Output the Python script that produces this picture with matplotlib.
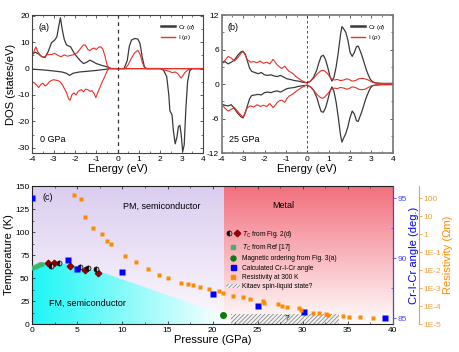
import numpy as np
import matplotlib
matplotlib.use('Agg')
import matplotlib.pyplot as plt
from matplotlib.lines import Line2D
from matplotlib.patches import Patch, Polygon, Rectangle
from matplotlib.legend_handler import HandlerTuple
from matplotlib.ticker import MultipleLocator, FixedLocator, NullFormatter

plt.rcParams['font.family'] = ['Liberation Sans', 'DejaVu Sans']
plt.rcParams['mathtext.fontset'] = 'custom'
plt.rcParams['mathtext.rm'] = 'Liberation Sans'
plt.rcParams['mathtext.it'] = 'Liberation Sans:italic'
plt.rcParams['axes.unicode_minus'] = False
plt.rcParams['hatch.color'] = '#888888'
plt.rcParams['hatch.linewidth'] = 0.6

# ---------------- panel (a): 0 GPa DOS ----------------
a_cr_up_E = [-4.0, -3.85, -3.7, -3.55, -3.4, -3.25, -3.1, -2.95, -2.85, -2.75, -2.68, -2.6, -2.5,
             -2.4, -2.3, -2.2, -2.05, -1.9, -1.75, -1.6, -1.45, -1.3, -1.15, -1.0, -0.85, -0.7,
             -0.55, -0.4, -0.3, 0.0, 0.3, 0.45, 0.55, 0.65, 0.8, 0.95, 1.05, 1.15, 1.25, 1.35, 4.0]
a_cr_up = [5.6, 6.2, 5.5, 4.5, 4.2, 6.5, 9.8, 10.8, 12.0, 16.5, 19.3, 15.0, 11.0,
           9.0, 8.6, 8.2, 6.0, 4.4, 3.0, 1.9, 2.4, 3.2, 2.6, 1.9, 1.5, 1.1,
           0.8, 0.4, 0.0, 0.0, 0.0, 3.0, 8.5, 10.8, 11.4, 11.2, 9.5, 4.5, 0.8, 0.0, 0.0]
a_cr_dn_E = [-4.0, -3.5, -3.0, -2.6, -2.4, -2.25, -2.1, -1.8, -1.4, -1.0, -0.6, -0.35, 2.0, 2.15,
             2.3, 2.4, 2.45, 2.55, 2.62, 2.7, 2.78, 2.85, 2.92, 2.98, 3.05, 3.12, 3.2, 3.28,
             3.38, 3.5, 4.0]
a_cr_dn = [-0.2, -0.5, -0.9, -1.3, -1.8, -2.6, -1.8, -1.3, -1.0, -0.7, -0.3, 0.0, 0.0, -0.6,
           -3.0, -10.0, -16.0, -17.5, -24.0, -28.5, -26.0, -22.0, -21.5, -25.0, -31.5, -29.0,
           -15.0, -5.0, -0.8, 0.0, 0.0]
a_i_up_E = [-4.0, -3.9, -3.83, -3.75, -3.6, -3.45, -3.3, -3.1, -2.95, -2.8, -2.65, -2.5, -2.35,
            -2.2, -2.05, -1.9, -1.75, -1.6, -1.5, -1.4, -1.3, -1.2, -1.1, -1.0, -0.9, -0.8, -0.7,
            -0.6, -0.5, -0.4, -0.3, 0.35, 0.5, 0.65, 0.8, 0.95, 1.05, 1.15, 1.25, 1.35, 4.0]
a_i_up = [4.5, 7.0, 8.2, 6.5, 4.8, 4.3, 5.3, 5.3, 5.8, 5.0, 4.5, 5.2, 4.7,
          5.0, 5.3, 6.0, 7.5, 9.0, 8.8, 7.3, 6.8, 7.5, 7.8, 7.2, 8.0, 8.3, 7.5,
          5.0, 1.5, 0.2, 0.0, 0.0, 1.5, 4.0, 6.0, 6.9, 5.5, 2.5, 0.5, 0.0, 0.0]
a_i_dn_E = [-4.0, -3.9, -3.8, -3.7, -3.6, -3.5, -3.4, -3.3, -3.2, -3.1, -3.0, -2.9, -2.8, -2.7,
            -2.6, -2.5, -2.4, -2.3, -2.22, -2.15, -2.05, -1.95, -1.85, -1.7, -1.6, -1.5, -1.4,
            -1.3, -1.2, -1.1, -1.02, -0.95, -0.85, -0.75, -0.6, -0.5, -0.4, 2.0, 2.2, 2.4,
            2.55, 2.7, 2.8, 2.9, 2.97, 3.05, 3.15, 3.3, 3.45, 4.0]
a_i_dn = [-5.0, -5.5, -6.2, -7.2, -6.0, -5.5, -6.6, -6.0, -5.0, -4.5, -4.2, -4.4, -4.5, -5.0,
          -6.0, -7.5, -9.0, -11.5, -12.0, -10.0, -9.2, -10.0, -8.6, -8.0, -8.8, -7.8, -8.0,
          -8.6, -8.4, -9.5, -11.0, -9.5, -7.5, -5.5, -3.0, -1.0, 0.0, 0.0, -0.6, -1.0,
          -1.5, -1.3, -1.8, -2.8, -3.6, -2.8, -1.5, -0.5, 0.0, 0.0]

# ---------------- panel (b): 25 GPa DOS ----------------
b_cr_E = [-4.0, -3.85, -3.7, -3.55, -3.4, -3.25, -3.1, -3.0, -2.9, -2.8, -2.7, -2.6, -2.45, -2.3,
          -2.15, -2.0, -1.85, -1.7, -1.55, -1.4, -1.25, -1.1, -0.95, -0.8, -0.6, -0.4, -0.2, 0.0,
          0.15, 0.3, 0.45, 0.55, 0.65, 0.75, 0.85, 0.95, 1.05, 1.15, 1.25, 1.35, 1.45, 1.55, 1.62,
          1.7, 1.8, 1.9, 2.0, 2.1, 2.2, 2.3, 2.38, 2.45, 2.55, 2.65, 2.75, 2.85, 2.95, 3.05, 3.2,
          3.5, 4.0]
b_cr_up = [3.6, 3.9, 3.5, 3.8, 4.2, 5.0, 5.6, 5.7, 5.2, 4.0, 2.8, 2.2, 2.0, 1.8,
           2.0, 1.6, 1.5, 1.6, 1.4, 1.3, 1.5, 1.2, 0.9, 0.8, 0.6, 0.5, 0.3, 0.2,
           0.5, 1.2, 2.5, 3.8, 4.8, 5.0, 4.3, 3.0, 1.5, 0.5, 1.2, 3.0, 5.5, 8.5, 10.0,
           9.6, 9.0, 7.6, 5.5, 4.8, 5.5, 6.5, 6.6, 6.0, 5.0, 3.8, 2.6, 1.6, 0.8, 0.4, 0.2,
           0.1, 0.1]
b_cr_dn = [-3.5, -3.7, -3.8, -3.6, -4.3, -5.1, -5.7, -5.9, -5.0, -3.8, -2.6, -2.0, -1.9, -1.8,
           -1.9, -1.5, -1.4, -1.5, -1.3, -1.2, -1.4, -1.1, -0.8, -0.7, -0.6, -0.4, -0.3, -0.2,
           -0.5, -1.1, -2.4, -3.7, -4.8, -4.9, -4.2, -2.9, -1.4, -0.5, -1.3, -3.2, -5.8, -8.8, -10.1,
           -9.4, -8.6, -7.4, -5.8, -4.7, -5.2, -6.4, -6.5, -5.8, -4.8, -3.6, -2.4, -1.5, -0.7,
           -0.3, -0.2, -0.1, -0.1]
b_i_E = [-4.0, -3.85, -3.7, -3.55, -3.4, -3.25, -3.1, -3.0, -2.9, -2.8, -2.65, -2.5, -2.35, -2.2,
         -2.05, -1.9, -1.75, -1.6, -1.5, -1.4, -1.3, -1.2, -1.05, -0.95, -0.85, -0.7, -0.5, -0.3,
         -0.1, 0.0, 0.15, 0.3, 0.45, 0.6, 0.7, 0.8, 0.95, 1.1, 1.25, 1.4, 1.55, 1.7, 1.85, 1.95,
         2.1, 2.25, 2.4, 2.55, 2.7, 2.85, 3.0, 3.15, 3.3, 4.0]
b_i_up = [3.7, 4.1, 4.8, 4.5, 4.0, 4.6, 5.3, 5.7, 5.0, 4.2, 3.8, 3.9, 3.7, 4.0,
          3.6, 3.8, 3.5, 4.3, 3.8, 3.3, 3.0, 2.7, 3.1, 2.6, 2.2, 1.9, 1.2, 0.7,
          0.3, 0.2, 0.5, 1.0, 1.7, 2.2, 2.4, 2.3, 1.8, 1.0, 0.7, 0.8, 0.6, 0.7, 0.9, 0.8,
          0.5, 0.6, 0.9, 1.0, 0.9, 0.7, 0.4, 0.2, 0.1, 0.1]
b_i_dn = [-3.5, -4.2, -4.7, -4.4, -4.1, -4.8, -5.4, -5.8, -4.9, -4.1, -3.8, -4.0, -3.6, -3.9,
          -3.7, -3.9, -3.4, -4.1, -3.7, -3.2, -2.9, -2.8, -3.2, -2.5, -2.1, -1.8, -1.2, -0.7,
          -0.3, -0.2, -0.5, -1.1, -1.8, -2.3, -2.5, -2.3, -1.7, -1.0, -0.7, -0.8, -0.6, -0.7,
          -0.9, -0.8, -0.5, -0.6, -0.9, -1.0, -0.9, -0.6, -0.3, -0.2, -0.1, -0.1]

# ---------------- panel (c): phase diagram ----------------
tc_circ_P = [2.1, 3.0, 5.3, 6.2, 7.1]
tc_circ_T = [63.5, 65.8, 61.8, 61.3, 59.5]
tc_diam_P = [1.75, 2.4, 4.2, 5.9, 7.25]
tc_diam_T = [65.8, 66.0, 63.0, 58.5, 55.8]
ref17_P = [0.0, 0.12, 0.25, 0.38, 0.5, 0.62, 0.75, 0.88, 1.0, 1.1]
ref17_T = [60.8, 61.5, 62.2, 62.8, 63.4, 64.0, 64.5, 64.9, 65.2, 65.4]
mag_P = [21.2]
mag_T = [9.8]
angle_P = [0.0, 4.0, 5.0, 10.0, 20.0, 25.0, 30.1, 39.1]
angle_deg = [95.0, 89.8, 89.1, 88.8, 87.0, 86.0, 85.5, 85.03]
res_P = [4.66, 5.4, 5.84, 6.73, 7.69, 8.28, 8.72, 10.28, 11.5, 12.83, 14.0, 15.0, 16.5, 17.3,
         17.85, 18.6, 19.6, 20.7, 21.2, 22.3, 23.4, 24.2, 25.55, 25.7, 27.2, 27.7, 28.3, 29.55,
         29.8, 31.1, 31.85, 32.55, 32.8, 34.5, 35.1, 36.4, 37.8]
res_ohm = [147, 92.7, 8.77, 2.13, 0.99, 0.41, 0.27, 0.062, 0.027, 0.0119, 0.0056, 0.0038, 0.0020,
           0.0016, 0.0014, 0.00112, 0.00085, 0.00069, 0.00053, 0.00038, 0.00031, 0.00025,
           0.00019, 0.000154, 0.000125, 0.000101, 0.000092, 0.000074, 0.000060, 0.000043,
           0.000039, 0.000036, 0.000033, 0.0000289, 0.0000257, 0.0000234, 0.0000226]
fm_P = [0.0, 0.5, 1.0, 2.0, 3.0, 4.0, 5.0, 6.0, 7.5, 21.25]
fm_T = [61.0, 63.5, 65.5, 66.5, 66.0, 64.5, 62.5, 60.0, 57.0, 10.0]
metal_P = 21.25
kitaev_P = (22.0, 34.0)
kitaev_T = 11.0
res_ticks = [1e-5, 1e-4, 1e-3, 1e-2, 1e-1, 1, 10, 100]
res_labels = ['1E-5', '1E-4', '1E-3', '1E-2', '1E-1', '1', '10', '100']

BLK = '#3a3a3a'
RED = '#e8302a'
BLUE = '#0000ff'
ORANGE = '#ff8a00'
ORANGE_AX = '#f0a040'
BLUE_AX = '#4646ff'

fig = plt.figure(figsize=(4.6, 3.52), dpi=100)
ax_a = fig.add_axes([0.0702, 0.5653, 0.371, 0.392])
ax_b = fig.add_axes([0.482, 0.5653, 0.372, 0.392])
ax_c = fig.add_axes([0.0702, 0.0795, 0.784, 0.392])


def style_box(ax):
    for s in ax.spines.values():
        s.set_color('#444444')
        s.set_linewidth(0.8)
    ax.tick_params(which='both', direction='in', top=True, right=True, labelsize=6,
                   color='#444444', pad=2)
    ax.tick_params(which='major', length=2.5, width=0.6)
    ax.tick_params(which='minor', length=1.5, width=0.5)


# panel (a)
ax_a.plot(a_cr_up_E, a_cr_up, color=BLK, lw=0.9)
ax_a.plot(a_cr_dn_E, a_cr_dn, color=BLK, lw=0.9)
ax_a.plot(a_i_up_E, a_i_up, color=RED, lw=0.8)
ax_a.plot(a_i_dn_E, a_i_dn, color=RED, lw=0.8)
ax_a.axvline(0, color='#333333', ls=(0, (3, 3)), lw=0.9)
ax_a.set_xlim(-4, 4)
ax_a.set_ylim(-32, 20.3)
ax_a.xaxis.set_major_locator(MultipleLocator(1))
ax_a.xaxis.set_minor_locator(MultipleLocator(0.5))
ax_a.yaxis.set_major_locator(MultipleLocator(10))
ax_a.yaxis.set_minor_locator(MultipleLocator(5))
style_box(ax_a)
ax_a.set_xlabel('Energy (eV)', fontsize=8, labelpad=1)
ax_a.set_ylabel('DOS (states/eV)', fontsize=8, labelpad=1)
ax_a.text(0.035, 0.94, '(a)', transform=ax_a.transAxes, fontsize=6.5, va='top')
ax_a.text(0.045, 0.1, '0 GPa', transform=ax_a.transAxes, fontsize=6.5, va='center')
leg_a = [Line2D([], [], color=BLK, lw=1.8), Line2D([], [], color=RED, lw=1.0)]
ax_a.legend(leg_a, ['Cr ($d$)', 'I ($p$)'], loc='upper right', frameon=False, fontsize=4.5,
            handlelength=2.2, handletextpad=0.5, labelspacing=0.3, borderaxespad=0.8)

# panel (b)
ax_b.plot(b_cr_E, b_cr_up, color=BLK, lw=0.9)
ax_b.plot(b_cr_E, b_cr_dn, color=BLK, lw=0.9)
ax_b.plot(b_i_E, b_i_up, color=RED, lw=0.8)
ax_b.plot(b_i_E, b_i_dn, color=RED, lw=0.8)
ax_b.axvline(0, color='#333333', ls=(0, (3, 3)), lw=0.6)
ax_b.set_xlim(-4, 4)
ax_b.set_ylim(-12, 12)
ax_b.xaxis.set_major_locator(MultipleLocator(1))
ax_b.xaxis.set_minor_locator(MultipleLocator(0.5))
ax_b.yaxis.set_major_locator(MultipleLocator(6))
ax_b.yaxis.set_minor_locator(MultipleLocator(3))
style_box(ax_b)
for s in ax_b.spines.values():
    s.set_color('#777777')
    s.set_linewidth(1.2)
ax_b.set_xlabel('Energy (eV)', fontsize=8, labelpad=1)
ax_b.text(0.035, 0.94, '(b)', transform=ax_b.transAxes, fontsize=6.5, va='top')
ax_b.text(0.045, 0.1, '25 GPa', transform=ax_b.transAxes, fontsize=6.5, va='center')
ax_b.legend(leg_a, ['Cr ($d$)', 'I ($p$)'], loc='upper right', frameon=False, fontsize=4.5,
            handlelength=2.2, handletextpad=0.5, labelspacing=0.3, borderaxespad=0.8)

# panel (c) backgrounds
n = 200
g = np.linspace(0, 1, n)[:, None, None]
lav_top = np.array([218, 205, 240]) / 255
lav_bot = np.array([253, 249, 253]) / 255
lav = lav_bot * (1 - g) + lav_top * g
lav = np.repeat(lav, 2, axis=1)
ax_c.imshow(lav, extent=[0, metal_P, 0, 150], origin='lower', aspect='auto', zorder=0)

red_top = np.array([242, 112, 126]) / 255
red_bot = np.array([255, 252, 252]) / 255
red = red_bot * (1 - g) + red_top * g
red = np.repeat(red, 2, axis=1)
ax_c.imshow(red, extent=[metal_P, 40, 0, 150], origin='lower', aspect='auto', zorder=0)

h = np.linspace(0, 1, n)[None, :, None]
cy_l = np.array([30, 246, 246]) / 255
cy_r = np.array([250, 255, 255]) / 255
cy = cy_l * (1 - h) + cy_r * h
cy = np.repeat(cy, 2, axis=0)
im = ax_c.imshow(cy, extent=[0, metal_P, 0, 70], origin='lower', aspect='auto', zorder=0.5)
fm_poly = Polygon(list(zip(fm_P, fm_T)) + [(metal_P, 0), (0, 0)], closed=True,
                  transform=ax_c.transData, facecolor='none', edgecolor='none')
ax_c.add_patch(fm_poly)
im.set_clip_path(fm_poly)

ax_c.add_patch(Rectangle((kitaev_P[0], 0), kitaev_P[1] - kitaev_P[0], kitaev_T,
                         facecolor='#f4f4f4', edgecolor='#888888', hatch='////////', lw=0,
                         zorder=1))
ax_c.text(28.3, 5.5, '?', fontsize=6, ha='center', va='center', zorder=2)

ax_c.plot(ref17_P, ref17_T, 's', color='#3cb371', ms=2.8, mec='none', zorder=3)
ax_c.plot(tc_diam_P, tc_diam_T, 'D', color='#8b0000', ms=3.3, mec='#8b0000', zorder=4)
ax_c.plot(tc_circ_P, tc_circ_T, 'o', ms=3.6, mfc='black', mec='black',
          fillstyle='left', markerfacecoloralt='#bbbbbb', mew=0.5, zorder=5)
ax_c.plot(mag_P, mag_T, 'o', color='#0b7a0b', ms=4, zorder=5)

ax_c.set_xlim(0, 40)
ax_c.set_ylim(0, 150)
ax_c.xaxis.set_major_locator(MultipleLocator(5))
ax_c.xaxis.set_minor_locator(MultipleLocator(2.5))
ax_c.yaxis.set_major_locator(MultipleLocator(25))
ax_c.yaxis.set_minor_locator(MultipleLocator(12.5))
for s in ax_c.spines.values():
    s.set_color('#222222')
    s.set_linewidth(0.8)
ax_c.tick_params(which='both', direction='in', top=True, right=False, labelsize=6,
                 color='#333333', pad=2)
ax_c.tick_params(which='major', length=2.5, width=0.6)
ax_c.tick_params(which='minor', length=1.5, width=0.5)
ax_c.set_xlabel('Pressure (GPa)', fontsize=8, labelpad=1)
ax_c.set_ylabel('Temperature (K)', fontsize=8, labelpad=1)
ax_c.text(1.1, 137, '(c)', fontsize=6.5, va='center')
ax_c.text(14.3, 128, 'PM, semiconductor', fontsize=6.5, ha='center', va='center')
ax_c.text(1.9, 22, 'FM, semiconductor', fontsize=6.5, ha='left', va='center')
ax_c.text(27.8, 129, 'Metal', fontsize=6.5, ha='center', va='center')

# angle axis
ax_ang = ax_c.twinx()
ax_ang.plot(angle_P, angle_deg, 's', color=BLUE, ms=4.2, mec='none', zorder=5)
ax_ang.set_ylim(84.5, 96)
ax_ang.yaxis.set_major_locator(FixedLocator([85, 90, 95]))
ax_ang.yaxis.set_minor_locator(FixedLocator([87.5, 92.5]))
ax_ang.spines['right'].set_color(BLUE_AX)
ax_ang.spines['right'].set_linewidth(0.8)
for k in ['top', 'left', 'bottom']:
    ax_ang.spines[k].set_visible(False)
ax_ang.tick_params(axis='y', which='major', direction='out', length=2.5, width=0.6,
                   colors=BLUE_AX, labelsize=6, pad=1)
ax_ang.tick_params(axis='y', which='minor', direction='in', length=1.5, width=0.5,
                   colors=BLUE_AX)
ax_ang.set_ylabel('Cr-I-Cr angle (deg.)', fontsize=8, color=BLUE, labelpad=1)

# resistivity axis
ax_res = ax_c.twinx()
ax_res.spines['right'].set_position(('axes', 1.072))
ax_res.set_yscale('log')
ax_res.plot(res_P, res_ohm, 's', color=ORANGE, ms=3.0, mec='none', zorder=6)
ax_res.set_ylim(1e-5, 10 ** 2.685)
ax_res.yaxis.set_major_locator(FixedLocator(res_ticks))
ax_res.yaxis.set_minor_locator(FixedLocator([]))
ax_res.set_yticklabels(res_labels)
ax_res.yaxis.set_minor_formatter(NullFormatter())
ax_res.spines['right'].set_color(ORANGE_AX)
ax_res.spines['right'].set_linewidth(0.8)
for k in ['top', 'left', 'bottom']:
    ax_res.spines[k].set_visible(False)
ax_res.tick_params(axis='y', which='major', direction='out', length=2.5, width=0.6,
                   colors=ORANGE_AX, labelsize=6, pad=1)
ax_res.set_ylabel('Resistivity (\u03a9m)', fontsize=8, color=ORANGE, labelpad=1)

# legend for (c)
h_tc = (Line2D([], [], ls='none', marker='o', ms=3.6, mfc='black', mec='black',
               fillstyle='left', markerfacecoloralt='#bbbbbb', mew=0.5),
        Line2D([], [], ls='none', marker='D', ms=3.3, color='#8b0000'))
h_ref = Line2D([], [], ls='none', marker='s', ms=3, color='#3cb371')
h_mag = Line2D([], [], ls='none', marker='o', ms=3.6, color='#0b7a0b')
h_ang = Line2D([], [], ls='none', marker='s', ms=3.6, color=BLUE)
h_res = Line2D([], [], ls='none', marker='s', ms=3.2, color=ORANGE)
h_kit = Patch(facecolor='#f4f4f4', edgecolor='#888888', hatch='////////', lw=0)
ax_res.legend([h_tc, h_ref, h_mag, h_ang, h_res, h_kit],
              [r'$T_\mathrm{C}$ from Fig. 2(d)', r'$T_\mathrm{C}$ from Ref [17]',
               'Magnetic ordering from Fig. 3(a)', 'Calculated Cr-I-Cr angle',
               'Resistivity at 300 K', 'Kitaev spin-liquid state?'],
              handler_map={tuple: HandlerTuple(ndivide=None, pad=0.3)},
              loc='upper left', bbox_to_anchor=(0.525, 0.725), frameon=False, fontsize=4.8,
              handlelength=2.0, handletextpad=0.4, labelspacing=0.35, borderpad=0.2)

fig.savefig('out.png', dpi=100)
